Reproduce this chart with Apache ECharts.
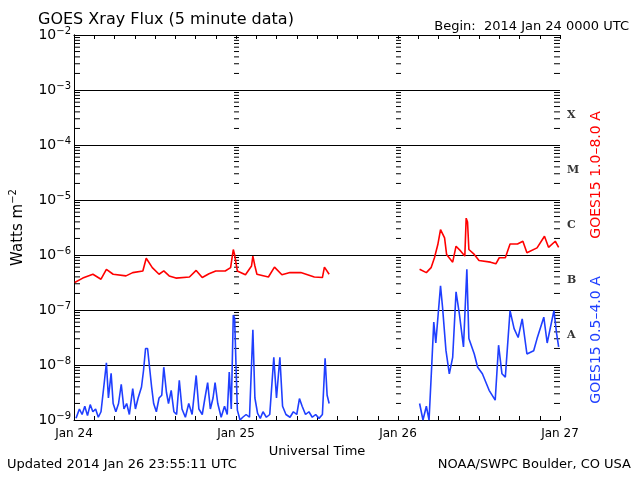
<!DOCTYPE html>
<html><head><meta charset="utf-8">
<script src="https://cdn.jsdelivr.net/npm/echarts@6/dist/echarts.min.js"></script>
<style>html,body{margin:0;padding:0;background:#fff}#c{width:640px;height:480px}</style>
</head><body><div id="c"></div>
<script>
// hours since 2014 Jan 24 00:00 UTC, and log10 of flux (W m^-2)
const dayLabels = ['Jan 24','Jan 25','Jan 26','Jan 27'];
const flareClasses = ['X','M','C','B','A'];
const longHours = [0.1,1.3,2.8,4.0,4.8,5.8,7.7,8.7,10.2,10.7,11.6,12.6,13.3,14.1,15.1,17.1,18.1,19.0,20.0,21.0,22.4,23.2,23.6,23.8,24.2,25.4,26.3,26.5,26.8,27.1,28.8,29.7,30.8,32,33.6,35.6,36.8,37.1,37.8,
 43,
 51.2,52.2,52.9,53.4,53.9,54.3,54.9,55.2,56.1,56.6,57.3,57.9,58.1,58.3,58.5,59.3,60.0,61.7,62.5,63.0,63.9,64.6,65.7,66.5,67.1,68.6,69.7,70.3,71.3,71.8];
const longExp = [-6.5,-6.42,-6.35,-6.44,-6.26,-6.35,-6.38,-6.32,-6.29,-6.06,-6.23,-6.35,-6.29,-6.38,-6.42,-6.40,-6.28,-6.41,-6.34,-6.29,-6.29,-6.23,-5.9,-6.0,-6.29,-6.36,-6.2,-6.02,-6.2,-6.35,-6.40,-6.22,-6.36,-6.32,-6.32,-6.40,-6.41,-6.22,-6.35,
 null,
 -6.26,-6.32,-6.23,-6.05,-5.81,-5.54,-5.69,-5.99,-6.13,-5.84,-5.93,-6.02,-5.33,-5.4,-5.9,-5.99,-6.1,-6.13,-6.16,-6.05,-6.05,-5.8,-5.8,-5.75,-5.96,-5.87,-5.66,-5.86,-5.75,-5.86];
const shortHours = [0.3,0.8,1.2,1.6,2.0,2.4,2.8,3.2,3.6,4.0,4.5,4.8,5.1,5.5,5.8,6.2,6.6,7.0,7.4,7.8,8.2,8.7,9.1,9.5,10.0,10.3,10.6,10.9,11.2,11.5,11.8,12.2,12.6,13.0,13.3,13.7,14.0,14.4,14.8,15.2,15.6,16.0,16.5,17.0,17.5,18.1,18.5,19.0,19.4,19.8,20.2,20.6,20.9,21.3,21.8,22.3,22.7,23.0,23.3,23.6,23.8,24.0,24.2,24.6,25.0,25.5,26.0,26.5,26.8,27.2,27.6,28.0,28.5,29.0,29.6,30.0,30.5,30.9,31.4,32.0,32.5,33.0,33.4,33.8,34.3,34.8,35.3,35.8,36.3,36.8,37.2,37.5,37.8,
 43,
 51.2,51.7,52.2,52.6,53.0,53.3,53.6,54.3,54.6,55.1,55.6,56.1,56.6,57.1,57.7,58.2,58.5,59.3,59.8,60.5,61.5,62.4,62.9,63.4,63.9,64.6,65.2,65.8,66.4,67.1,68.1,68.6,69.6,70.1,71.1,71.5,71.8];
const shortExp = [-8.97,-8.8,-8.9,-8.75,-8.92,-8.72,-8.85,-8.8,-8.95,-8.85,-8.3,-7.96,-8.6,-8.15,-8.7,-8.85,-8.7,-8.35,-8.8,-8.7,-8.9,-8.43,-8.8,-8.6,-8.4,-8.1,-7.7,-7.7,-8.05,-8.4,-8.7,-8.85,-8.6,-8.55,-8.04,-8.5,-8.7,-8.46,-8.85,-8.9,-8.28,-8.8,-8.95,-8.7,-8.9,-8.19,-8.8,-8.9,-8.6,-8.32,-8.8,-8.6,-8.32,-8.7,-8.95,-8.75,-8.9,-8.13,-8.8,-7.09,-7.15,-8.0,-8.82,-9.0,-8.95,-8.9,-8.95,-7.36,-8.6,-8.88,-8.97,-8.85,-8.95,-8.9,-7.86,-8.6,-7.86,-8.75,-8.9,-8.95,-8.85,-8.9,-8.61,-8.75,-8.9,-8.85,-8.95,-8.9,-8.97,-8.9,-7.88,-8.55,-8.7,
 null,
 -8.7,-9.0,-8.75,-9.0,-8.0,-7.22,-7.6,-6.56,-6.95,-7.73,-8.16,-7.86,-6.67,-7.08,-7.67,-6.26,-7.52,-7.8,-8.04,-8.16,-8.46,-8.64,-7.64,-8.16,-8.22,-7.01,-7.34,-7.5,-7.16,-7.8,-7.74,-7.52,-7.13,-7.6,-7.01,-7.43,-7.67];

const toPts = (h, e) => h.map((x, i) => [x, e[i] === null ? null : Math.pow(10, e[i])]);
// minor tick data: [hour, log10 value] on a hidden linear exponent axis
const tickData = [];
[0, 24, 48, 72].forEach(h => {
  for (let e = -9; e < -2; e++) for (let k = 2; k <= 9; k++) tickData.push([h, e + Math.log10(k)]);
});
const classData = flareClasses.map((c, i) => ({ name: c, value: [72, 3.5 * Math.pow(10, -4 - i)] }));

const chart = echarts.init(document.getElementById('c'));
const F = 'DejaVu Sans';
chart.setOption({
  animation: false,
  textStyle: { fontFamily: F },
  grid: { left: 71, right: 80, top: 35, bottom: 60 },
  title: [
    { text: 'GOES Xray Flux (5 minute data)', left: 33, top: 7, textStyle: { fontFamily: F, fontSize: 16, fontWeight: 'normal', color: '#000' } },
    { text: 'Begin:  2014 Jan 24 0000 UTC', right: 6, top: 15, textStyle: { fontFamily: F, fontSize: 13, fontWeight: 'normal', color: '#000' } },
    { text: 'Updated 2014 Jan 26 23:55:11 UTC', left: 2, bottom: 4, textStyle: { fontFamily: F, fontSize: 13, fontWeight: 'normal', color: '#000' } },
    { text: 'NOAA/SWPC Boulder, CO USA', right: 4, bottom: 4, textStyle: { fontFamily: F, fontSize: 13, fontWeight: 'normal', color: '#000' } }
  ],
  graphic: [
    { type: 'text', x: 596, y: 175, rotation: Math.PI / 2, style: { text: 'GOES15 1.0\u20138.0 A', fill: '#ff0000', font: '14px DejaVu Sans', align: 'center', verticalAlign: 'middle' } },
    { type: 'text', x: 596, y: 340, rotation: Math.PI / 2, style: { text: 'GOES15 0.5\u20134.0 A', fill: '#1f3fff', font: '14px DejaVu Sans', align: 'center', verticalAlign: 'middle' } }
  ],
  xAxis: [
    { type: 'value', min: 0, max: 72, interval: 3, name: 'Universal Time', nameLocation: 'middle', nameGap: 24,
      nameTextStyle: { fontSize: 13, color: '#000', fontFamily: F },
      axisLine: { lineStyle: { color: '#000' } }, axisTick: { inside: true, length: 4, lineStyle: { color: '#000' } },
      splitLine: { show: false },
      axisLabel: { color: '#000', fontSize: 12, margin: 8, formatter: v => v % 24 === 0 ? dayLabels[v / 24] : '' } },
    { type: 'value', min: 0, max: 72, interval: 3, position: 'top',
      axisLine: { lineStyle: { color: '#000' } }, axisTick: { inside: true, length: 4, lineStyle: { color: '#000' } },
      splitLine: { show: false }, axisLabel: { show: false } }
  ],
  yAxis: [
    { type: 'log', logBase: 10, min: 1e-9, max: 1e-2, name: 'Watts m{s|−2}', nameLocation: 'middle', nameGap: 46,
      nameTextStyle: { fontSize: 15, color: '#000', fontFamily: F, rich: { s: { fontSize: 10, verticalAlign: 'bottom', padding: [0, 0, 10, 0] } } },
      axisLine: { show: true, lineStyle: { color: '#000' } }, axisTick: { show: false },
      splitLine: { show: true, lineStyle: { color: '#000', width: 1 } },
      axisLabel: { color: '#000', margin: 3, formatter: v => { const e = Math.round(Math.log10(v)); return '10{s|' + String(e).replace('-', '−') + '}'; },
        rich: { s: { fontSize: 10, verticalAlign: 'bottom', padding: [0, 0, 8, 0], fontFamily: F } }, fontSize: 14, fontFamily: F } },
    { type: 'log', logBase: 10, min: 1e-9, max: 1e-2, position: 'right',
      axisLine: { show: true, lineStyle: { color: '#000' } }, axisTick: { show: false }, splitLine: { show: false }, axisLabel: { show: false } },
    { type: 'value', min: -9, max: -2, show: false }
  ],
  series: [
    { type: 'custom', xAxisIndex: 0, yAxisIndex: 2, silent: true, data: tickData, z: 1,
      renderItem: (params, api) => {
        const h = api.value(0);
        const p = api.coord([h, api.value(1)]);
        const x1 = h === 0 ? p[0] : (h === 72 ? p[0] - 6 : p[0] - 2);
        const x2 = h === 0 ? p[0] + 6 : (h === 72 ? p[0] : p[0] + 3);
        return { type: 'line', shape: { x1: x1, y1: p[1], x2: x2, y2: p[1] }, style: { stroke: '#000', lineWidth: 1 } };
      } },
    { type: 'line', name: 'long', data: toPts(longHours, longExp), showSymbol: false, connectNulls: false,
      lineStyle: { color: '#ff0000', width: 1.6 }, z: 3 },
    { type: 'line', name: 'short', data: toPts(shortHours, shortExp), showSymbol: false, connectNulls: false,
      lineStyle: { color: '#1f3fff', width: 1.6 }, z: 3 },
    { type: 'scatter', data: classData, symbolSize: 0, silent: true, clip: false,
      label: { show: true, position: 'right', distance: 7, formatter: p => p.name, color: '#000', fontSize: 11, fontWeight: 'bold', fontFamily: 'DejaVu Serif' } }
  ]
});
</script></body></html>
